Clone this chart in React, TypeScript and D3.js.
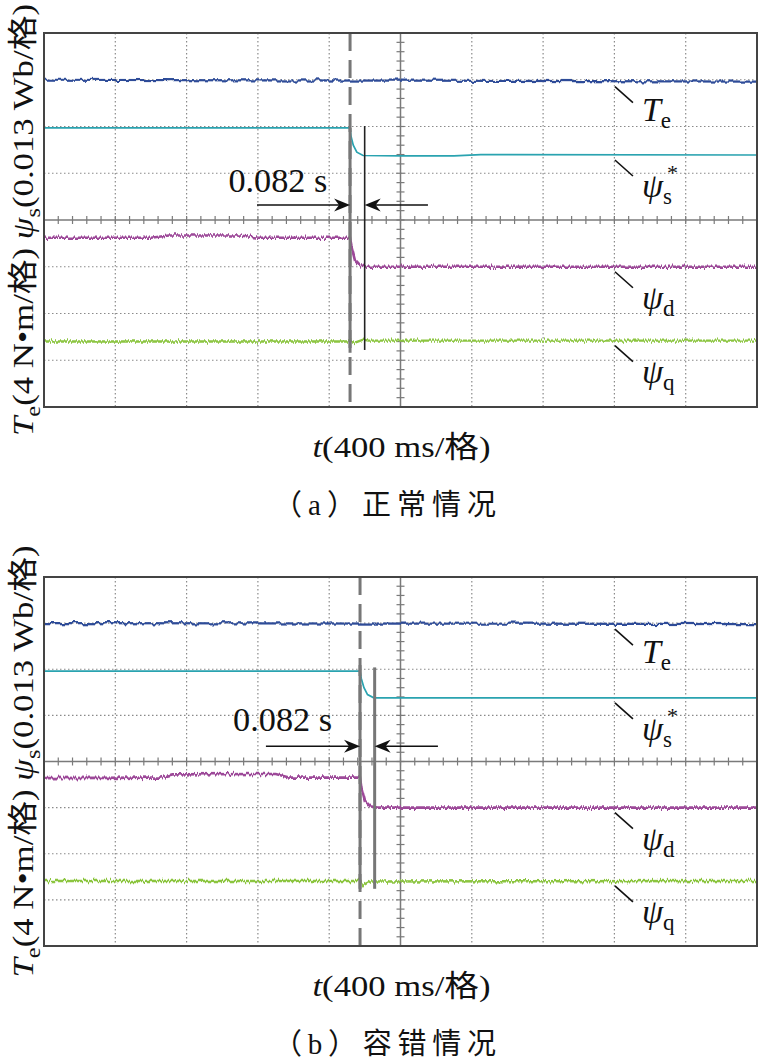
import React from "react";
import * as d3 from "d3";

// ---------- data (time in ms, value in scope divisions) ----------
const TIME_DOMAIN: [number, number] = [0, 4000]; // 10 div × 400 ms
const DIV_DOMAIN: [number, number] = [-4, 4]; // 8 vertical divisions

const teA: [number, number][] = [[0, 3.0], [2000, 2.98], [4000, 2.96]];
const psiSA: [number, number][] = [
  [0, 1.97], [1717, 1.97], [1722, 1.8], [1735, 1.6], [1755, 1.45], [1790, 1.38],
  [2000, 1.37], [2300, 1.37], [2450, 1.4], [4000, 1.39],
];
const psiDA: [number, number][] = [
  [0, -0.38], [600, -0.38], [700, -0.33], [1100, -0.33], [1200, -0.38], [1717, -0.38],
  [1725, -0.55], [1745, -0.85], [1775, -0.97], [1810, -1.0], [4000, -1.0],
];
const psiQA: [number, number][] = [
  [0, -2.6], [1717, -2.6], [1740, -2.63], [1790, -2.56], [1820, -2.58], [4000, -2.58],
];

const teB: [number, number][] = [[0, 3.0], [2000, 2.99], [4000, 2.98]];
const psiSB: [number, number][] = [
  [0, 1.96], [1773, 1.96], [1780, 1.8], [1795, 1.6], [1815, 1.45], [1850, 1.38], [4000, 1.38],
];
const psiDB: [number, number][] = [
  [0, -0.36], [650, -0.35], [720, -0.28], [1300, -0.27], [1380, -0.35], [1773, -0.35],
  [1780, -0.55], [1800, -0.85], [1830, -0.97], [1870, -1.0], [4000, -1.0],
];
const psiQB: [number, number][] = [
  [0, -2.59], [1773, -2.59], [1790, -2.68], [1830, -2.6], [4000, -2.59],
];

// event markers (times in ms, levels in divisions)
const eventA = { start: 1717, end: 1799, segTop: 1.97, segBot: -2.84, endTop: 2.01, endBot: -2.78, arrowY: 0.32, arrowFrom: 1195, arrowTo: 2154, textT: 1590, textY: 0.6 };
const eventB = { start: 1773, end: 1855, segTop: 2.09, segBot: -2.76, endTop: 2.04, endBot: -2.76, arrowY: 0.33, arrowFrom: 1245, arrowTo: 2210, textT: 1616, textY: 0.67 };

const intervalLabel = "0.082 s";
const xLabel = ["t", "(400 ms/格)"];
const yLabelParts = ["T", "e", "(4 N•m/格) ", "ψ", "s", "(0.013 Wb/格)"];
const captions = ["（a）正常情况", "（b）容错情况"];

const COLORS = { te: "#2d4c98", psiS: "#2aa3b0", psiD: "#9d4a99", psiQ: "#8cc540" };

const SERIF = "'Liberation Serif', 'Times New Roman', 'Noto Sans CJK SC', serif";
const CJK = "'Liberation Serif', 'Noto Sans CJK SC', serif";

type PanelProps = {
  top: number;
  bottom: number;
  te: [number, number][];
  psiS: [number, number][];
  psiD: [number, number][];
  psiQ: [number, number][];
  ev: typeof eventA;
  endColor: string;
  endWidth: number;
  caption: string;
};

function Panel({ top, bottom, te, psiS, psiD, psiQ, ev, endColor, endWidth, caption }: PanelProps) {
  const x = d3.scaleLinear().domain(TIME_DOMAIN).range([44, 757]);
  const y = d3.scaleLinear().domain(DIV_DOMAIN).range([bottom, top]);
  const line = d3.line<[number, number]>().x((d) => x(d[0])).y((d) => y(d[1]));
  const cx = x(2000);
  const cy = y(0);

  const vGrid = d3.range(1, 10).filter((i) => i !== 5).map((i) => i * 400);
  const hGrid = d3.range(-3, 4).filter((v) => v !== 0);
  const xMinor = d3.range(0, 4001, 80);
  const yMinor = d3.range(-40, 41, 2).map((v) => v / 10);

  const labelT0 = 3203;
  const labelT1 = 3304;
  const labels: { lvl: number; main: string; sub: string; star?: boolean }[] = [
    { lvl: te[te.length - 1][1], main: "T", sub: "e" },
    { lvl: psiS[psiS.length - 1][1], main: "ψ", sub: "s", star: true },
    { lvl: psiD[psiD.length - 1][1], main: "ψ", sub: "d" },
    { lvl: psiQ[psiQ.length - 1][1], main: "ψ", sub: "q" },
  ];

  const ay = y(ev.arrowY);
  const xs = x(ev.start);
  const xe = x(ev.end);
  const head = (tipX: number, dir: number) =>
    `M${tipX},${ay} L${tipX - dir * 16},${ay - 6.5} L${tipX - dir * 11},${ay} L${tipX - dir * 16},${ay + 6.5} Z`;

  return (
    <g>
      {/* grid */}
      {vGrid.map((t) => (
        <line key={"v" + t} x1={x(t)} x2={x(t)} y1={top} y2={bottom} stroke="#8a8a8a" strokeWidth={1.2} strokeDasharray="1.5 2.5" />
      ))}
      {hGrid.map((v) => (
        <line key={"h" + v} x1={44} x2={757} y1={y(v)} y2={y(v)} stroke="#8a8a8a" strokeWidth={1.2} strokeDasharray="1.5 2.5" />
      ))}
      {/* center axes */}
      <line x1={44} x2={757} y1={cy} y2={cy} stroke="#7a7a7a" strokeWidth={1.5} />
      <line x1={cx} x2={cx} y1={top} y2={bottom} stroke="#7a7a7a" strokeWidth={1.5} />
      {xMinor.map((t) => (
        <line key={"xm" + t} x1={x(t)} x2={x(t)} y1={cy - 4} y2={cy + 4} stroke="#7a7a7a" strokeWidth={1.2} />
      ))}
      {yMinor.map((v) => (
        <line key={"ym" + v} x1={cx - 4} x2={cx + 4} y1={y(v)} y2={y(v)} stroke="#7a7a7a" strokeWidth={1.2} />
      ))}

      {/* traces */}
      <path d={line(te) || ""} fill="none" stroke={COLORS.te} strokeWidth={2.2} filter="url(#ripple)" />
      <path d={line(psiS) || ""} fill="none" stroke={COLORS.psiS} strokeWidth={1.7} />
      <path d={line(psiD) || ""} fill="none" stroke={COLORS.psiD} strokeWidth={2.6} filter="url(#jitter)" />
      <path d={line(psiQ) || ""} fill="none" stroke={COLORS.psiQ} strokeWidth={2.4} filter="url(#jitter)" />

      {/* event markers */}
      <line x1={xs} x2={xs} y1={top} y2={bottom} stroke="#777" strokeWidth={3} strokeDasharray="18 9" />
      <line x1={xs} x2={xs} y1={y(ev.segTop)} y2={y(ev.segBot)} stroke="#777" strokeWidth={3} />
      <line x1={xe} x2={xe} y1={y(ev.endTop)} y2={y(ev.endBot)} stroke={endColor} strokeWidth={endWidth} />

      {/* arrows */}
      <line x1={x(ev.arrowFrom)} x2={xs - 4} y1={ay} y2={ay} stroke="#111" strokeWidth={1.6} />
      <path d={head(xs, 1)} fill="#111" />
      <line x1={x(ev.arrowTo)} x2={xe + 4} y1={ay} y2={ay} stroke="#111" strokeWidth={1.6} />
      <path d={head(xe, -1)} fill="#111" />
      <text x={x(ev.textT)} y={y(ev.textY)} textAnchor="end" fontFamily={SERIF} fontSize={33} fill="#111" textLength={99} lengthAdjust="spacingAndGlyphs">
        {intervalLabel}
      </text>

      {/* right labels */}
      {labels.map((l, i) => {
        const y0 = y(l.lvl) + 5;
        const y1 = y(l.lvl) + 21;
        const tx = x(labelT1) + 9;
        const base = l.main === "T" ? y1 + 18 : y1 + 21;
        return (
          <g key={"lab" + i}>
            <line x1={x(labelT0)} y1={y0} x2={x(labelT1)} y2={y1} stroke="#111" strokeWidth={1.6} />
            <text x={tx} y={base} fontFamily={SERIF} fontSize={34} fill="#111">
              <tspan fontStyle="italic">{l.main}</tspan>
              <tspan fontSize={23} dy={7}>{l.sub}</tspan>
              {l.star && (
                <tspan fontSize={22} dx={-5} dy={-24}>*</tspan>
              )}
            </text>
          </g>
        );
      })}

      {/* frame */}
      <rect x={44} y={top} width={713} height={bottom - top} fill="none" stroke="#444" strokeWidth={2} />

      {/* y label */}
      <text
        transform={`translate(33, ${cy}) rotate(-90)`}
        textAnchor="middle"
        fontFamily={SERIF}
        fontSize={30}
        fill="#111"
        textLength={432}
        lengthAdjust="spacingAndGlyphs"
      >
        <tspan fontStyle="italic">{yLabelParts[0]}</tspan>
        <tspan fontSize={21} dy={7}>{yLabelParts[1]}</tspan>
        <tspan dy={-7}>{yLabelParts[2]}</tspan>
        <tspan fontStyle="italic">{yLabelParts[3]}</tspan>
        <tspan fontSize={21} dy={7}>{yLabelParts[4]}</tspan>
        <tspan dy={-7}>{yLabelParts[5]}</tspan>
      </text>

      {/* x label */}
      <text x={cx + 1} y={bottom + 50} textAnchor="middle" fontFamily={SERIF} fontSize={30} fill="#111" textLength={178} lengthAdjust="spacingAndGlyphs">
        <tspan fontStyle="italic">{xLabel[0]}</tspan>
        <tspan>{xLabel[1]}</tspan>
      </text>

      {/* caption */}
      <text x={384.5} y={bottom + 108} textAnchor="middle" fontFamily={CJK} fontSize={29} fill="#111" textLength={223} lengthAdjust="spacing">
        {caption}
      </text>
    </g>
  );
}

export default function App() {
  return (
    <svg width={759} height={1062} viewBox="0 0 759 1062" style={{ position: "absolute", left: 0, top: 0, background: "#fff" }}>
      <defs>
        <filter id="jitter" filterUnits="userSpaceOnUse" x={0} y={0} width={759} height={1062}>
          <feTurbulence type="fractalNoise" baseFrequency="0.7 0.02" numOctaves={2} seed={4} result="n" />
          <feColorMatrix in="n" type="matrix" values="0 0 0 0 0.5  0 1 0 0 0  0 0 0 0 0  0 0 0 0 1" result="m" />
          <feDisplacementMap in="SourceGraphic" in2="m" scale={6} xChannelSelector="R" yChannelSelector="G" />
        </filter>
        <filter id="ripple" filterUnits="userSpaceOnUse" x={0} y={0} width={759} height={1062}>
          <feTurbulence type="fractalNoise" baseFrequency="0.18 0.02" numOctaves={2} seed={7} result="n" />
          <feColorMatrix in="n" type="matrix" values="0 0 0 0 0.5  0 1 0 0 0  0 0 0 0 0  0 0 0 0 1" result="m" />
          <feDisplacementMap in="SourceGraphic" in2="m" scale={6} xChannelSelector="R" yChannelSelector="G" />
        </filter>
      </defs>
      <Panel top={33} bottom={407} te={teA} psiS={psiSA} psiD={psiDA} psiQ={psiQA} ev={eventA} endColor="#222" endWidth={1.6} caption={captions[0]} />
      <Panel top={577} bottom={946} te={teB} psiS={psiSB} psiD={psiDB} psiQ={psiQB} ev={eventB} endColor="#777" endWidth={3} caption={captions[1]} />
    </svg>
  );
}
